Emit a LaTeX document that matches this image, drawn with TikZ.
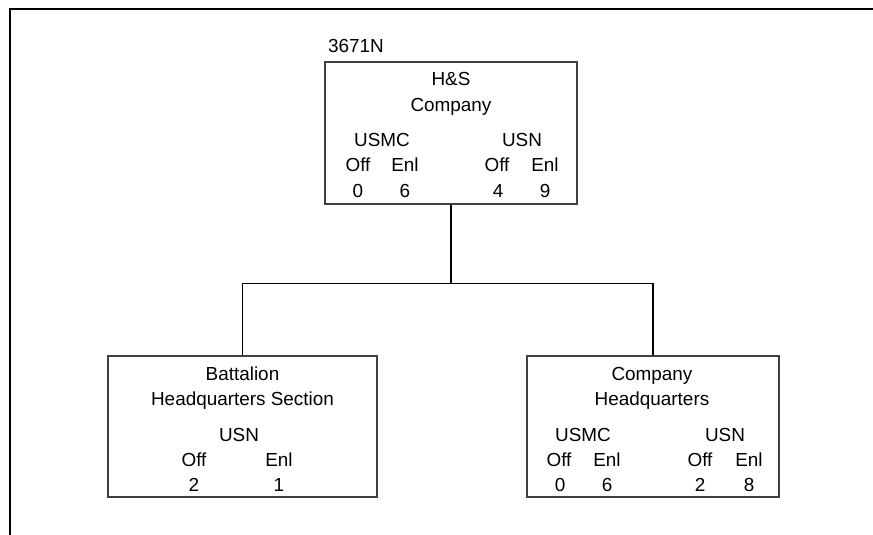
\documentclass[tikz,border=0pt]{standalone}
\usepackage{fontspec}
\setmainfont{Liberation Sans}
\begin{document}
\begin{tikzpicture}[x=1pt,y=-1pt,
  box/.style={draw=black!75,line width=1.1pt,inner sep=0pt},
  lbl/.style={anchor=base,inner sep=0pt,font=\fontsize{18.9}{20}\selectfont},
  conn/.style={draw=black,line width=1.2pt},
  frame/.style={draw=black,line width=2pt}]
\useasboundingbox (0,0) rectangle (873,535);
% page frame
\coordinate (fa) at (873,9);
\coordinate (fb) at (10,9);
\coordinate (fc) at (10,535);
\draw[frame] (fa) -- (fb) -- (fc);
% boxes
\node[box,minimum width=252pt,minimum height=142pt] (top) at (451,133) {};
\node[box,minimum width=269pt,minimum height=141pt] (left) at (242.5,426.5) {};
\node[box,minimum width=252pt,minimum height=141pt] (right) at (653,426.5) {};
% connectors
\draw[conn] (top.south) -- ++(0,79) coordinate (jc);
\draw[conn] (left.north) |- (jc) -| (right.north);
% top box texts
\node[lbl,anchor=base west] (code) at (328,52.3) {3671N};
\node[lbl] (t1) at (451,85.5) {H\&S};
\node[lbl] (t2) at (451,111.5) {Company};
\node[lbl] (t3) at (382,146) {USMC};
\node[lbl] (t4) at (522,146) {USN};
\node[lbl] (t5) at (358,171.5) {Off};
\node[lbl] (t6) at (405,171.5) {Enl};
\node[lbl] (t7) at (497,171.5) {Off};
\node[lbl] (t8) at (545,171.5) {Enl};
\node[lbl] (t9) at (358,197.5) {0};
\node[lbl] (t10) at (405,197.5) {6};
\node[lbl] (t11) at (498,197.5) {4};
\node[lbl] (t12) at (545,197.5) {9};
% left box texts
\node[lbl] (l1) at (242.5,380.5) {Battalion};
\node[lbl] (l2) at (242.5,405.5) {Headquarters Section};
\node[lbl] (l3) at (239,441) {USN};
\node[lbl] (l4) at (194,466) {Off};
\node[lbl] (l5) at (279,466) {Enl};
\node[lbl] (l6) at (194,491.7) {2};
\node[lbl] (l7) at (279,491.7) {1};
% right box texts
\node[lbl] (r1) at (652,380.5) {Company};
\node[lbl] (r2) at (652,405.5) {Headquarters};
\node[lbl] (r3) at (583,441) {USMC};
\node[lbl] (r4) at (725,441) {USN};
\node[lbl] (r5) at (559,466) {Off};
\node[lbl] (r6) at (607,466) {Enl};
\node[lbl] (r7) at (700,466) {Off};
\node[lbl] (r8) at (749,466) {Enl};
\node[lbl] (r9) at (560,491.7) {0};
\node[lbl] (r10) at (607,491.7) {6};
\node[lbl] (r11) at (700,491.7) {2};
\node[lbl] (r12) at (749,491.7) {8};
\end{tikzpicture}
\end{document}
